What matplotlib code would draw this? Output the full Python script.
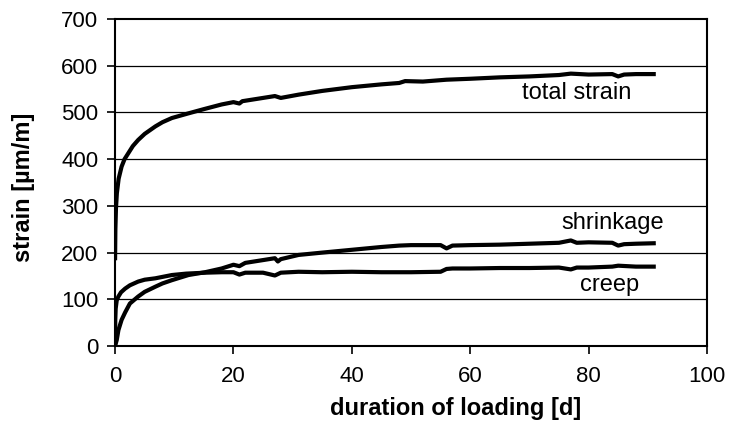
import matplotlib
matplotlib.use("Agg")
import matplotlib.pyplot as plt

plt.rcParams['font.family'] = ['Liberation Sans', 'DejaVu Sans']

total_t = [0, 0.05, 0.15, 0.3, 0.6, 1.1, 1.6, 2.25, 3, 3.9, 5, 6.8, 8, 9.6, 12.4, 15, 18, 20, 21, 21.5,
           25, 27, 28, 31, 35, 40, 45, 48, 49, 52, 56, 60, 65, 70, 75, 77, 80, 84, 85, 86, 88, 91]
total_v = [188, 250, 295, 327, 358, 384, 400, 413, 428, 441, 454, 470, 479, 488, 498, 507, 517, 522, 519, 524,
           531, 535, 531, 538, 546, 554, 560, 563, 567, 566, 570, 572, 575, 577, 580, 583, 581, 582, 577, 581, 582, 582]

shr_t = [0, 0.1, 0.28, 0.56, 1.1, 1.7, 2.5, 3.9, 5, 6.8, 8, 9.6, 12.4, 15.2, 18, 20, 21, 22, 25, 27, 27.5, 28,
         31, 35, 40, 45, 48, 50, 55, 56, 57, 60, 65, 70, 75, 77, 78, 80, 84, 85, 86, 88, 91]
shr_v = [0, 5, 13, 34, 56, 72, 91, 106, 116, 127, 134, 141, 152, 158, 166, 174, 171, 178, 184, 188, 181, 186,
         195, 200, 206, 212, 215, 216, 216, 209, 215, 216, 217, 219, 221, 226, 221, 222, 221, 215, 218, 219, 220]

creep_t = [0, 0.03, 0.1, 0.28, 0.56, 1, 1.7, 2.5, 3.9, 5, 6.8, 9.6, 12, 15.2, 18, 20, 21, 22, 25, 27, 28,
           31, 35, 40, 45, 50, 55, 56, 57, 60, 65, 70, 75, 77, 78, 80, 84, 85, 88, 91]
creep_v = [0, 55, 80, 98, 106, 115, 123, 130, 138, 142, 145, 152, 155, 157, 158, 158, 153, 157, 157, 151, 157,
           159, 158, 159, 158, 158, 159, 165, 166, 166, 167, 167, 168, 164, 168, 168, 170, 172, 170, 170]

x_ticks = [0, 20, 40, 60, 80, 100]
y_ticks = [0, 100, 200, 300, 400, 500, 600, 700]

fig = plt.figure(figsize=(7.33, 4.21), dpi=100)
ax = fig.add_axes([0.157, 0.178, 0.8075, 0.777])

for y in y_ticks[1:-1]:
    ax.axhline(y, color='black', lw=0.9, zorder=1)

for t, v in [(total_t, total_v), (shr_t, shr_v), (creep_t, creep_v)]:
    ax.plot(t, v, color='black', lw=3.0, solid_joinstyle='round', zorder=3)

ax.set_xlim(0, 100)
ax.set_ylim(0, 700)
ax.set_xticks(x_ticks)
ax.set_yticks(y_ticks)
ax.tick_params(direction='out', length=6, width=1.2, labelsize=16, color='black')
ax.tick_params(axis='x', pad=8)
ax.tick_params(axis='y', pad=6)
for s in ax.spines.values():
    s.set_linewidth(1.5)
    s.set_color('black')

ax.set_xlabel('duration of loading [d]', fontsize=17, fontweight='bold')
ax.xaxis.set_label_coords(0.576, -0.19, transform=ax.transAxes)
ax.xaxis.label.set_va('center')
ax.set_ylabel('strain [µm/m]', fontsize=17, fontweight='bold')
ax.yaxis.set_label_coords(-0.155, 0.486, transform=ax.transAxes)
ax.yaxis.label.set_va('center')

ax.text(78, 542, 'total strain', fontsize=17, ha='center', va='center')
ax.text(84, 263, 'shrinkage', fontsize=17, ha='center', va='center')
ax.text(83.5, 131, 'creep', fontsize=17, ha='center', va='center')

fig.savefig('out.png', dpi=100)
